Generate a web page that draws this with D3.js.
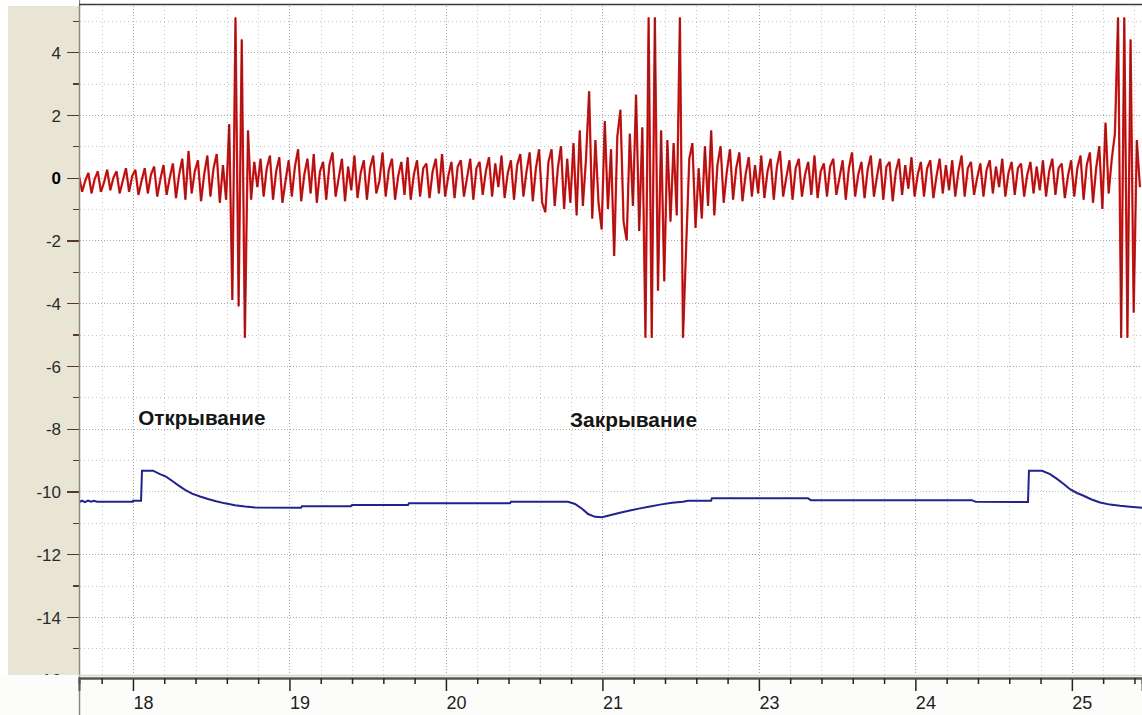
<!DOCTYPE html>
<html>
<head>
<meta charset="utf-8">
<script src="https://cdn.jsdelivr.net/npm/d3@7"></script>
<style>
  html, body { margin: 0; padding: 0; background: #ffffff; overflow: hidden; }
  svg { display: block; font-family: "Liberation Sans", Arial, sans-serif; }
</style>
</head>
<body>
<svg id="chart" width="1142" height="715"></svg>
<script>
// ---- Time axis (seconds) ----
const timeDomain = [17.56, 25.44];
const xMajorTicks = [17.96, 19.12, 20.28, 21.44, 22.60, 23.76, 24.92];
const xTickLabels = ["18", "19", "20", "21", "23", "24", "25"];
const xMinorPerMajor = 5;

// ---- Amplitude axis ----
const yDomain = [-15.85, 5.47];
const yMajorTicks = [4, 2, 0, -2, -4, -6, -8, -10, -12, -14, -16];
const yTickLabels = ["4", "2", "0", "-2", "-4", "-6", "-8", "-10", "-12", "-14", "-16"];
const yMinorTicks = [5, 3, 1, -1, -3, -5, -7, -9, -11, -13, -15];

// ---- Vibration channel (red): uniform sampling ----
const redStart = 17.56;
const redStep = 0.0232;
const redValues = [
  0.05, -0.45, -0.1, 0.15, -0.5, -0.05, 0.2, -0.45, -0.15, 0.25,
  -0.4, 0.0, 0.2, -0.5, -0.1, 0.3, -0.45, 0.05, 0.25, -0.55,
  -0.1, 0.3, -0.5, 0.1, 0.35, -0.6, -0.05, 0.4, -0.55, 0.0,
  0.45, -0.65, 0.1, 0.6, -0.7, 0.85, -0.5, 0.2, 0.55, -0.75,
  0.1, 0.7, -0.6, 0.3, 0.75, -0.8, 0.4, -0.7, 1.7, -3.9,
  5.1, -4.1, 4.4, -5.1, 1.5, -0.7, 0.5, -0.3, 0.6, -0.6,
  0.3, 0.7, -0.7, 0.2, 0.65, -0.8, -0.1, 0.55, -0.6, 0.35,
  0.9, -0.75, 0.1, 0.6, -0.5, 0.75, -0.8, 0.2, 0.5, -0.7,
  0.4, 0.8, -0.6, 0.0, 0.6, -0.75, 0.35, -0.4, 0.7, -0.65,
  0.15, 0.55, -0.7, 0.3, 0.7, -0.5, -0.1, 0.8, -0.6, 0.25,
  0.6, -0.7, 0.05, 0.5, -0.55, 0.65, -0.7, 0.1, 0.55, -0.6,
  0.3, 0.45, -0.65, 0.2, 0.6, -0.5, 0.75, -0.6, 0.05, 0.5,
  -0.65, 0.35, 0.55, -0.6, 0.0, 0.6, -0.7, 0.3, 0.5, -0.55,
  0.2, 0.65, -0.6, 0.45, -0.3, 0.7, -0.65, 0.15, 0.55, -0.7,
  0.4, 0.75, -0.6, 0.2, 0.8, -0.75, 0.3, 0.9, -0.8, -1.1,
  0.5, 0.9, -0.9, 0.3, 1.0, -1.0, 0.6, -0.8, 1.1, -1.2,
  1.5, -0.9, 0.6, 2.75, -1.3, 1.2, -0.8, -1.65, 1.8, -1.0,
  0.9, -2.5, 1.3, 2.16, -1.4, -2.0, 1.4, -0.9, 2.64, -1.7,
  1.6, -5.1, 5.1, -5.1, 5.1, -3.6, 1.5, -3.3, 1.2, -1.4,
  1.1, -1.2, 5.1, -5.1, -2.2, 0.6, 1.1, -1.6, 0.3, -1.3,
  1.0, -0.9, 1.5, -1.2, 0.4, 1.0, -0.8, 0.2, 0.9, -0.7,
  0.3, 0.8, -0.75, 0.1, 0.65, -0.6, 0.4, -0.5, 0.7, -0.65,
  0.2, 0.6, -0.7, 0.35, 0.85, -0.6, 0.0, 0.55, -0.7, 0.3,
  0.6, -0.6, 0.1, 0.5, -0.55, 0.7, -0.65, 0.2, 0.45, -0.6,
  0.35, 0.6, -0.55, 0.0, 0.55, -0.7, 0.3, 0.8, -0.6, 0.1,
  0.5, -0.65, 0.25, 0.7, -0.6, 0.05, 0.6, -0.7, 0.35, 0.5,
  -0.75, 0.2, 0.6, -0.55, 0.4, -0.35, 0.65, -0.6, 0.1, 0.5,
  -0.6, 0.3, 0.55, -0.65, 0.05, 0.6, -0.5, 0.4, -0.4, 0.55,
  -0.6, 0.2, 0.7, -0.6, 0.3, 0.5, -0.55, 0.0, 0.45, -0.6,
  0.25, 0.55, -0.5, 0.35, -0.3, 0.6, -0.6, 0.15, 0.5, -0.55,
  0.3, 0.45, -0.6, 0.1, 0.5, -0.5, 0.35, -0.4, 0.55, -0.6,
  0.2, 0.6, -0.55, 0.3, 0.45, -0.65, 0.05, 0.55, -0.6, 0.3,
  0.7, -0.7, 0.4, 0.8, -0.8, 0.3, 1.0, -1.0, 1.75, -0.5,
  0.6, 1.4, 5.1, -5.1, 5.1, -5.1, 4.4, -4.3, 1.2, -0.3
];

// ---- Control channel (blue): breakpoints ----
const blueTimes = [
  17.560, 17.582, 17.604, 17.627, 17.649, 17.671, 17.693, 17.960, 17.961, 18.020,
  18.027, 18.109, 18.160, 18.205, 18.249, 18.294, 18.346, 18.398, 18.457, 18.516,
  18.576, 18.642, 18.716, 18.791, 18.865, 19.206, 19.213, 19.576, 19.584, 19.999,
  20.006, 20.755, 20.762, 21.185, 21.237, 21.289, 21.334, 21.385, 21.437, 21.496,
  21.570, 21.644, 21.719, 21.793, 21.867, 21.956, 22.037, 22.075, 22.245, 22.252,
  22.964, 22.979, 22.986, 24.180, 24.194, 24.209, 24.595, 24.602, 24.699, 24.758,
  24.810, 24.862, 24.906, 24.958, 25.003, 25.062, 25.129, 25.203, 25.277, 25.351,
  25.440
];
const blueValues = [
  -10.35, -10.29, -10.34, -10.29, -10.33, -10.30, -10.33, -10.33, -10.30, -10.30,
  -9.34, -9.34, -9.45, -9.53, -9.66, -9.80, -9.95, -10.07, -10.16, -10.24,
  -10.31, -10.38, -10.44, -10.48, -10.51, -10.52, -10.47, -10.47, -10.43, -10.43,
  -10.38, -10.38, -10.33, -10.33, -10.40, -10.55, -10.72, -10.81, -10.82, -10.76,
  -10.68, -10.61, -10.54, -10.48, -10.42, -10.36, -10.33, -10.30, -10.30, -10.22,
  -10.22, -10.26, -10.28, -10.28, -10.31, -10.33, -10.34, -9.34, -9.34, -9.45,
  -9.60, -9.77, -9.93, -10.05, -10.13, -10.25, -10.35, -10.42, -10.46, -10.49,
  -10.52
];

// ---- Event annotations ----
const noteTexts = ["Открывание", "Закрывание"];
const noteTimes = [18.0, 21.2];
const noteValues = [-7.87, -7.96];

// ---- Layout ----
const W = 1142, H = 715;
const plot = { left: 79, right: 1142, top: 6, bottom: 675 };

const svg = d3.select("#chart");

const x = d3.scaleLinear().domain(timeDomain).range([plot.left, plot.right]);
const y = d3.scaleLinear().domain(yDomain).range([plot.bottom, plot.top]);

// minor time ticks between the labelled ones
const majorStep = xMajorTicks[1] - xMajorTicks[0];
const minorStep = majorStep / xMinorPerMajor;
const xMinorTicks = [];
for (let k = -10; k < 60; k++) {
  const t = xMajorTicks[0] + k * minorStep;
  if (t >= timeDomain[0] && t <= timeDomain[1]) xMinorTicks.push(+t.toFixed(4));
}
const isMajorX = t => xMajorTicks.some(m => Math.abs(m - t) < 1e-3);

// backgrounds
svg.append("rect").attr("x", 0).attr("y", 0).attr("width", W).attr("height", H).attr("fill", "#ffffff");
svg.append("rect").attr("x", 8).attr("y", plot.top).attr("width", plot.left - 8).attr("height", plot.bottom - plot.top)
  .attr("fill", "#e9e5d5");

// dotted grid
const grid = svg.append("g").attr("shape-rendering", "crispEdges");
grid.selectAll("line.h").data(yMajorTicks.concat(yMinorTicks).filter(v => v >= yDomain[0] && v <= yDomain[1]))
  .join("line")
  .attr("x1", plot.left + 1).attr("x2", plot.right)
  .attr("y1", d => Math.round(y(d)) + 0.5).attr("y2", d => Math.round(y(d)) + 0.5)
  .attr("stroke", d => d === -10 ? "#cfc79a" : (d % 2 === 0 ? "#a8a8a8" : "#c6c6c6"))
  .attr("stroke-width", 1)
  .attr("stroke-dasharray", d => d % 2 === 0 ? "1,2" : "1,3");
grid.selectAll("line.v").data(xMinorTicks)
  .join("line")
  .attr("x1", d => Math.round(x(d)) + 0.5).attr("x2", d => Math.round(x(d)) + 0.5)
  .attr("y1", plot.top).attr("y2", plot.bottom)
  .attr("stroke", d => isMajorX(d) ? "#a8a8a8" : "#c6c6c6")
  .attr("stroke-width", 1)
  .attr("stroke-dasharray", d => isMajorX(d) ? "1,2" : "1,3");

// clip for traces
svg.append("clipPath").attr("id", "plotClip").append("rect")
  .attr("x", plot.left + 1).attr("y", plot.top).attr("width", plot.right - plot.left - 1)
  .attr("height", plot.bottom - plot.top);

const traces = svg.append("g").attr("clip-path", "url(#plotClip)");

// red vibration trace: bright body with a darker core
const redPoints = redValues.map((v, i) => [redStart + i * redStep, v]);
const redLine = d3.line().x(d => x(d[0])).y(d => y(d[1])).curve(d3.curveLinear);
traces.append("path").datum(redPoints)
  .attr("d", redLine).attr("fill", "none")
  .attr("stroke", "#ff1010").attr("stroke-width", 2.3).attr("stroke-linejoin", "bevel");
traces.append("path").datum(redPoints)
  .attr("d", redLine).attr("fill", "none")
  .attr("stroke", "#7c1f1f").attr("stroke-width", 1.0).attr("stroke-linejoin", "bevel");

// blue control trace
const bluePoints = blueTimes.map((t, i) => [t, blueValues[i]]);
traces.append("path").datum(bluePoints)
  .attr("d", d3.line().x(d => x(d[0])).y(d => y(d[1])))
  .attr("fill", "none").attr("stroke", "#22228c").attr("stroke-width", 2.0);

// annotations
svg.selectAll("text.note").data(noteTexts).join("text")
  .attr("class", "note")
  .attr("x", (d, i) => x(noteTimes[i]))
  .attr("y", (d, i) => y(noteValues[i]))
  .attr("font-size", 20).attr("font-weight", "bold").attr("fill", "#151515")
  .attr("textLength", 127).attr("lengthAdjust", "spacingAndGlyphs")
  .text(d => d);

// y axis in the left panel
const yAxisG = svg.append("g").attr("transform", `translate(${plot.left},0)`);
yAxisG.call(d3.axisLeft(y).tickValues(yMajorTicks).tickSize(12).tickPadding(6)
  .tickFormat((d, i) => yTickLabels[i]));
yAxisG.append("g").call(d3.axisLeft(y).tickValues(yMinorTicks).tickSize(6).tickFormat(""));
yAxisG.selectAll(".domain").remove();
yAxisG.selectAll(".tick line").attr("stroke", "#5a3434").attr("stroke-width", 1.2).attr("shape-rendering", "crispEdges");
yAxisG.selectAll(".tick text")
  .attr("font-size", 17)
  .attr("font-family", "Liberation Sans, Arial, sans-serif")
  .attr("fill", d => d === 0 ? "#000" : "#2a2a2a")
  .attr("font-weight", d => d === 0 ? "bold" : "normal")
  .attr("dy", "0.36em");

// bottom axis panel (covers anything below the plot)
svg.append("rect").attr("x", 0).attr("y", plot.bottom).attr("width", W).attr("height", H - plot.bottom)
  .attr("fill", "#fcfcfa");

// left border of plot
svg.append("line").attr("x1", plot.left + 0.5).attr("x2", plot.left + 0.5)
  .attr("y1", 0).attr("y2", H)
  .attr("stroke", "#8a8a84").attr("stroke-width", 1.5);

// top frame strip
svg.append("rect").attr("x", plot.left + 1.5).attr("y", 0).attr("width", W).attr("height", plot.top - 1).attr("fill", "#ffffff");
svg.append("rect").attr("x", 0).attr("y", 0).attr("width", plot.left).attr("height", plot.top - 1).attr("fill", "#ffffff");
svg.append("line").attr("x1", plot.left).attr("x2", W).attr("y1", 4.5).attr("y2", 4.5)
  .attr("stroke", "#3a3a3a").attr("stroke-width", 1.5);

// x axis
const xAxisY = 678;
svg.append("line").attr("x1", plot.left).attr("x2", W).attr("y1", xAxisY - 2.5).attr("y2", xAxisY - 2.5)
  .attr("stroke", "#d4d4cc").attr("stroke-width", 1.5);
const xAxisG = svg.append("g").attr("transform", `translate(0,${xAxisY})`);
xAxisG.call(d3.axisBottom(x).tickValues(xMajorTicks).tickSize(13)
  .tickFormat((d, i) => xTickLabels[i]));
xAxisG.append("g").call(d3.axisBottom(x).tickValues(xMinorTicks.filter(t => !isMajorX(t))).tickSize(6).tickFormat(""));
xAxisG.selectAll(".domain").attr("stroke", "#555").attr("stroke-width", 2);
xAxisG.selectAll(".tick line").attr("stroke", "#222").attr("stroke-width", 1.5);
xAxisG.selectAll(".tick text")
  .attr("font-size", 18)
  .attr("font-family", "Liberation Sans, Arial, sans-serif")
  .attr("fill", "#1e1e1e")
  .attr("text-anchor", "start")
  .attr("x", 0)
  .attr("y", 31)
  .attr("dy", 0);
</script>
</body>
</html>
